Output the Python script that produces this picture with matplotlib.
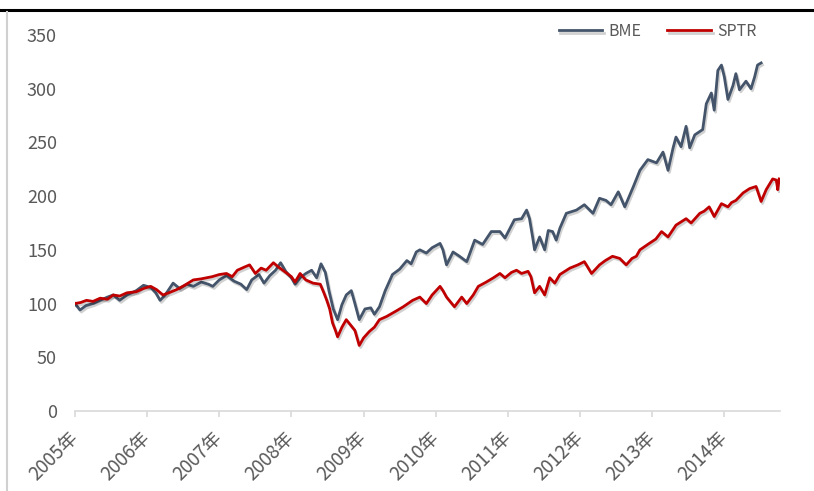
import matplotlib
matplotlib.use("Agg")
import matplotlib.pyplot as plt
import matplotlib.patheffects as pe
from matplotlib.lines import Line2D

plt.rcParams["font.family"] = ["Noto Sans CJK SC", "DejaVu Sans"]

# -----------------------------------------------------------------
# Values (decimal year, index level)
# -----------------------------------------------------------------
bme_t = [2005.00, 2005.07, 2005.15, 2005.25, 2005.35, 2005.45, 2005.53, 2005.62,
         2005.72, 2005.85, 2005.95, 2006.05, 2006.12, 2006.18, 2006.25, 2006.36,
         2006.45, 2006.55, 2006.64, 2006.75, 2006.85, 2006.91, 2007.00, 2007.10,
         2007.20, 2007.30, 2007.38, 2007.45, 2007.55, 2007.62, 2007.70, 2007.78,
         2007.85, 2007.92, 2008.00, 2008.05, 2008.12, 2008.20, 2008.28, 2008.35,
         2008.41, 2008.47, 2008.52, 2008.58, 2008.64, 2008.70, 2008.76, 2008.83,
         2008.88, 2008.94, 2009.02, 2009.10, 2009.15, 2009.22, 2009.30, 2009.40,
         2009.50, 2009.60, 2009.66, 2009.73, 2009.78, 2009.87, 2009.95, 2010.06,
         2010.10, 2010.15, 2010.24, 2010.33, 2010.43, 2010.48, 2010.54, 2010.65,
         2010.77, 2010.89, 2010.96, 2011.09, 2011.19, 2011.26, 2011.30, 2011.35,
         2011.37, 2011.44, 2011.51, 2011.56, 2011.62, 2011.67, 2011.72, 2011.81,
         2011.95, 2012.06, 2012.18, 2012.27, 2012.36, 2012.43, 2012.53, 2012.62,
         2012.74, 2012.83, 2012.94, 2013.06, 2013.15, 2013.22, 2013.29, 2013.33,
         2013.40, 2013.47, 2013.52, 2013.59, 2013.70, 2013.75, 2013.82, 2013.86,
         2013.91, 2013.96, 2014.00, 2014.05, 2014.12, 2014.16, 2014.21, 2014.30,
         2014.37, 2014.42, 2014.46, 2014.51]
bme_v = [100, 94, 98, 100, 103, 106, 108, 103,
         108, 112, 117, 115, 110, 103, 108, 119,
         114, 118, 116, 120, 118, 116, 122, 126,
         121, 118, 113, 122, 127, 119, 126, 131,
         138, 130, 124, 118, 124, 128, 131, 124,
         137, 129, 112, 95, 85, 99, 108, 112,
         100, 85, 95, 96, 90, 97, 112, 127,
         132, 140, 137, 148, 150, 147, 152, 156,
         150, 136, 148, 144, 139, 148, 159, 155,
         167, 167, 161, 178, 179, 187, 179, 159,
         150, 162, 150, 168, 167, 159, 170, 184,
         187, 192, 184, 198, 196, 192, 204, 190,
         209, 224, 234, 231, 241, 224, 245, 255,
         246, 265, 245, 257, 262, 286, 296, 280,
         317, 322, 311, 290, 303, 314, 299, 307,
         300, 311, 322, 324]

sptr_t = [2005.00, 2005.08, 2005.16, 2005.25, 2005.35, 2005.45, 2005.53, 2005.62,
          2005.72, 2005.85, 2005.95, 2006.05, 2006.13, 2006.22, 2006.30, 2006.41,
          2006.52, 2006.64, 2006.75, 2006.90, 2007.00, 2007.10, 2007.18, 2007.25,
          2007.35, 2007.42, 2007.50, 2007.58, 2007.65, 2007.75, 2007.82, 2007.90,
          2008.00, 2008.05, 2008.12, 2008.20, 2008.30, 2008.40, 2008.45, 2008.49,
          2008.53, 2008.57, 2008.61, 2008.64, 2008.70, 2008.76, 2008.82, 2008.88,
          2008.94, 2009.00, 2009.08, 2009.15, 2009.22, 2009.32, 2009.45, 2009.55,
          2009.68, 2009.78, 2009.87, 2009.95, 2010.06, 2010.10, 2010.15, 2010.26,
          2010.36, 2010.43, 2010.52, 2010.59, 2010.70, 2010.80, 2010.89, 2010.96,
          2011.05, 2011.12, 2011.19, 2011.28, 2011.32, 2011.37, 2011.44, 2011.51,
          2011.58, 2011.65, 2011.72, 2011.86, 2011.97, 2012.06, 2012.16, 2012.27,
          2012.35, 2012.45, 2012.55, 2012.64, 2012.72, 2012.78, 2012.83, 2012.96,
          2013.05, 2013.13, 2013.22, 2013.33, 2013.40, 2013.47, 2013.54, 2013.66,
          2013.72, 2013.79, 2013.86, 2013.96, 2014.05, 2014.10, 2014.16, 2014.26,
          2014.35, 2014.44, 2014.51, 2014.58, 2014.67, 2014.72, 2014.74, 2014.76]
sptr_v = [100, 101, 103, 102, 105, 104, 108, 107,
          110, 111, 114, 116, 113, 108, 110, 113,
          117, 122, 123, 125, 127, 128, 125, 131,
          134, 136, 128, 133, 131, 138, 134, 130,
          125, 120, 128, 122, 119, 118, 110, 103,
          95, 82, 75, 69, 78, 85, 80, 75,
          61, 68, 74, 78, 85, 88, 93, 97,
          103, 106, 100, 108, 116, 112, 106, 97,
          106, 100, 108, 116, 120, 124, 128, 124,
          129, 131, 128, 130, 125, 110, 116, 108,
          124, 119, 127, 133, 136, 139, 128, 136,
          140, 144, 142, 136, 142, 144, 150, 156,
          160, 167, 162, 173, 176, 179, 175, 184,
          186, 190, 181, 193, 190, 194, 196, 203,
          207, 209, 195, 206, 216, 215, 206, 216]

year_ticks = list(range(2005, 2015))
year_labels = [f"{y}年" for y in year_ticks]
y_ticks = [0, 50, 100, 150, 200, 250, 300, 350]

BME_COLOR = "#44546A"
SPTR_COLOR = "#C00000"
TEXT_COLOR = "#595959"
AXIS_COLOR = "#D9D9D9"

fig = plt.figure(figsize=(8.14, 4.91), dpi=100)
ax = fig.add_axes([0.0921, 0.163, 0.866, 0.7657])

shadow = [pe.SimpleLineShadow(offset=(1, -1.5), alpha=0.18, shadow_color="black"),
          pe.Normal()]
ax.plot(bme_t, bme_v, color=BME_COLOR, lw=2.0, label="BME", path_effects=shadow)
ax.plot(sptr_t, sptr_v, color=SPTR_COLOR, lw=2.0, label="SPTR", path_effects=shadow)

ax.set_xlim(2005.0, 2014.77)
ax.set_ylim(0, 350)
ax.set_yticks(y_ticks)
ax.set_xticks(year_ticks)
ax.set_xticklabels(year_labels, rotation=45, ha="right", va="center",
                   rotation_mode="anchor")

for side in ["top", "right", "left"]:
    ax.spines[side].set_visible(False)
ax.spines["bottom"].set_color(AXIS_COLOR)
ax.spines["bottom"].set_linewidth(1.2)

ax.tick_params(axis="y", length=0, pad=13, labelsize=13, labelcolor=TEXT_COLOR)
ax.tick_params(axis="x", length=4, width=1.2, color=AXIS_COLOR, pad=13,
               labelsize=13.5, labelcolor=TEXT_COLOR)

leg = ax.legend(loc="upper right", ncol=2, frameon=False, fontsize=11.5,
                bbox_to_anchor=(0.988, 1.07), handlelength=2.75, columnspacing=1.6,
                handletextpad=0.4)
for t in leg.get_texts():
    t.set_color(TEXT_COLOR)
for h in leg.get_lines():
    h.set_linewidth(2.0)

# page frame from the source document: rule under the cropped caption and left border
fig.add_artist(Line2D([0, 1], [0.979, 0.979], transform=fig.transFigure,
                      color="black", lw=2.2))
fig.add_artist(Line2D([0.0086, 0.0086], [0, 0.975], transform=fig.transFigure,
                      color="#D0D0D0", lw=1.5))

fig.savefig("out.png", dpi=100)
